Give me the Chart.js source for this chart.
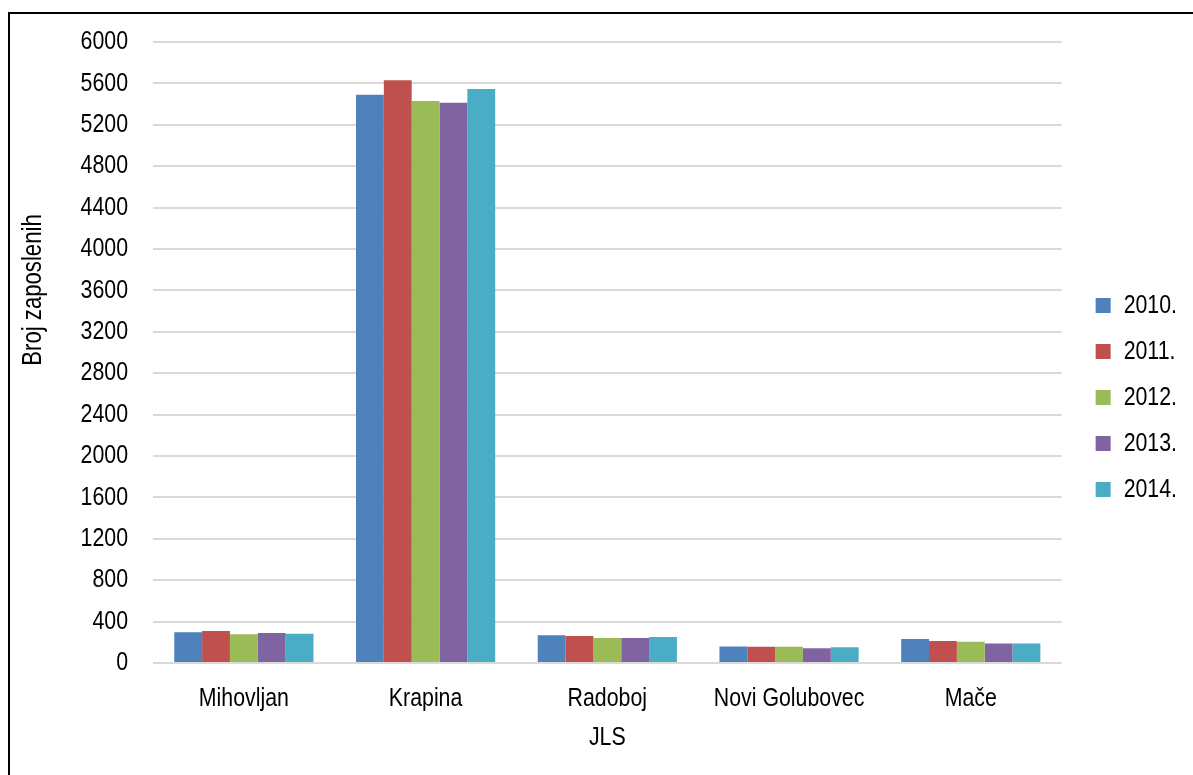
<!DOCTYPE html>
<html>
<head>
<meta charset="utf-8">
<script src="https://cdn.jsdelivr.net/npm/chart.js@4.4.1/dist/chart.umd.min.js"></script>
<style>
html, body { margin: 0; padding: 0; background: #fff; overflow: hidden; }
#frame { position: absolute; left: 8px; top: 12px; width: 1220px; height: 800px; border: 2px solid #000; }
#chart { position: absolute; left: 0; top: 0; }
</style>
</head>
<body>
<div id="frame"></div>
<canvas id="chart" width="1193" height="775"></canvas>
<script>
// data
var categories = ['Mihovljan', 'Krapina', 'Radoboj', 'Novi Golubovec', 'Mače'];
var years = ['2010.', '2011.', '2012.', '2013.', '2014.'];
var values2010 = [297, 5490, 267, 160, 231];
var values2011 = [309, 5630, 260, 156, 212];
var values2012 = [277, 5430, 241, 156, 205];
var values2013 = [290, 5414, 241, 143, 189];
var values2014 = [283, 5545, 251, 153, 189];
var colors = ['#4F81BD', '#C0504D', '#9BBB59', '#8064A2', '#4BACC6'];
var yTitle = 'Broj zaposlenih';
var xTitle = 'JLS';

var fontFamily = '"Liberation Sans", Arial, sans-serif';
var fontSize = 26;
Chart.defaults.font.family = fontFamily;
Chart.defaults.font.size = fontSize;
Chart.defaults.color = '#000';

// the original uses a narrow sans (Arial Narrow), which is not installed here,
// so squeeze all canvas text horizontally instead
var narrow = 0.82;
var canvas = document.getElementById('chart');
var ctx = canvas.getContext('2d');
var protoFill = CanvasRenderingContext2D.prototype.fillText;
var protoMeasure = CanvasRenderingContext2D.prototype.measureText;
ctx.fillText = function(text, x, y, maxWidth) {
    this.save();
    this.translate(x, y);
    this.scale(narrow, 1);
    if (maxWidth === undefined) protoFill.call(this, text, 0, 0);
    else protoFill.call(this, text, 0, 0, maxWidth / narrow);
    this.restore();
};
ctx.measureText = function(text) {
    var m = protoMeasure.call(this, text);
    return {
        width: m.width * narrow,
        actualBoundingBoxAscent: m.actualBoundingBoxAscent,
        actualBoundingBoxDescent: m.actualBoundingBoxDescent,
        actualBoundingBoxLeft: m.actualBoundingBoxLeft * narrow,
        actualBoundingBoxRight: m.actualBoundingBoxRight * narrow
    };
};

var series = [values2010, values2011, values2012, values2013, values2014];
var datasets = series.map(function(vals, i) {
    return {
        label: years[i],
        data: vals,
        backgroundColor: colors[i],
        borderWidth: 0,
        barPercentage: 1,
        categoryPercentage: 0.766
    };
});

// rotated y axis title, sits higher than the axis centre like the original
var yTitlePlugin = {
    id: 'yTitle',
    afterDraw: function(chart) {
        var c = chart.ctx;
        c.save();
        c.translate(34, 290);
        c.rotate(-Math.PI / 2);
        c.font = '27px ' + fontFamily;
        c.fillStyle = '#000';
        c.textAlign = 'center';
        c.textBaseline = 'middle';
        c.fillText(yTitle, 0, 0);
        c.restore();
    }
};

new Chart(ctx, {
    type: 'bar',
    data: { labels: categories, datasets: datasets },
    plugins: [yTitlePlugin],
    options: {
        responsive: false,
        animation: false,
        layout: { padding: { top: 42, left: 0, right: 6, bottom: 22 } },
        plugins: {
            tooltip: { enabled: false },
            legend: {
                position: 'right',
                labels: { boxWidth: 15, boxHeight: 15, padding: 20, font: { size: fontSize } }
            }
        },
        scales: {
            x: {
                grid: { display: false },
                border: { display: false },
                ticks: { padding: 12, maxRotation: 0, autoSkip: false },
                title: { display: true, text: xTitle, padding: { top: 0, bottom: 0 } },
                afterFit: function(s) { s.height = 90; }
            },
            y: {
                min: 0,
                max: 6000,
                ticks: {
                    stepSize: 400,
                    padding: 25,
                    callback: function(v) { return String(v); }
                },
                grid: { color: '#d9d9d9', lineWidth: 2, drawTicks: false },
                border: { display: false },
                afterFit: function(s) { s.width = 153; }
            },
            gap: {
                type: 'linear',
                position: 'right',
                display: true,
                grid: { display: false },
                ticks: { display: false },
                border: { display: false },
                afterFit: function(s) { s.width = 14; }
            }
        }
    }
});
</script>
</body>
</html>
